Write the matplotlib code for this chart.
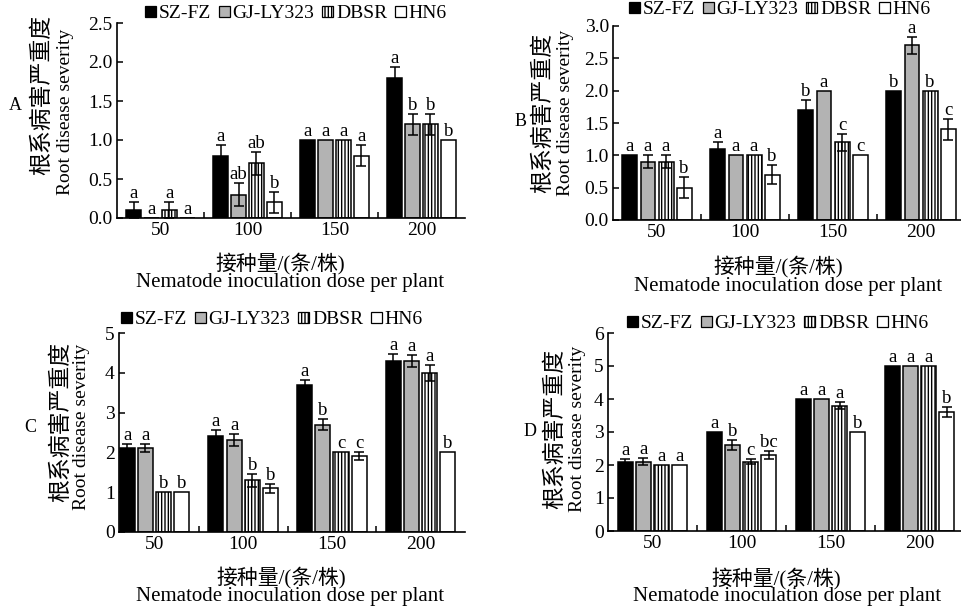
import numpy as np
import matplotlib.pyplot as plt
from matplotlib.patches import Patch

plt.rcParams['font.family'] = ['Liberation Serif', 'Noto Sans CJK SC']

doses = ['50', '100', '150', '200']
strains = ['SZ-FZ', 'GJ-LY323', 'DBSR', 'HN6']
colors = ['black', '#b3b3b3', 'white', 'white']
hatches = ['', '', '|' * 5, '']

# rows = strains, columns = doses
mean_A = [[0.1, 0.8, 1.0, 1.8], [0.0, 0.3, 1.0, 1.2], [0.1, 0.7, 1.0, 1.2], [0.0, 0.2, 0.8, 1.0]]
err_A = [[0.1, 0.13, 0, 0.13], [0, 0.15, 0, 0.13], [0.1, 0.15, 0, 0.13], [0, 0.13, 0.13, 0]]
let_A = [['a', 'a', 'a', 'a'], ['a', 'ab', 'a', 'b'], ['a', 'ab', 'a', 'b'], ['a', 'b', 'a', 'b']]

mean_B = [[1.0, 1.1, 1.7, 2.0], [0.9, 1.0, 2.0, 2.7], [0.9, 1.0, 1.2, 2.0], [0.5, 0.7, 1.0, 1.4]]
err_B = [[0, 0.1, 0.15, 0], [0.1, 0, 0, 0.13], [0.1, 0, 0.13, 0], [0.16, 0.15, 0, 0.16]]
let_B = [['a', 'a', 'b', 'b'], ['a', 'a', 'a', 'a'], ['a', 'a', 'c', 'b'], ['b', 'b', 'c', 'c']]

mean_C = [[2.1, 2.4, 3.7, 4.3], [2.1, 2.3, 2.7, 4.3], [1.0, 1.3, 2.0, 4.0], [1.0, 1.1, 1.9, 2.0]]
err_C = [[0.1, 0.16, 0.13, 0.16], [0.1, 0.15, 0.14, 0.15], [0, 0.16, 0, 0.2], [0, 0.11, 0.1, 0]]
let_C = [['a', 'a', 'a', 'a'], ['a', 'a', 'b', 'a'], ['b', 'b', 'c', 'a'], ['b', 'b', 'c', 'b']]

mean_D = [[2.1, 3.0, 4.0, 5.0], [2.1, 2.6, 4.0, 5.0], [2.0, 2.1, 3.8, 5.0], [2.0, 2.3, 3.0, 3.6]]
err_D = [[0.08, 0, 0, 0], [0.1, 0.15, 0, 0], [0, 0.08, 0.1, 0], [0, 0.13, 0, 0.15]]
let_D = [['a', 'a', 'a', 'a'], ['a', 'b', 'a', 'a'], ['a', 'c', 'a', 'a'], ['a', 'bc', 'b', 'b']]

ylab_zh = '根系病害严重度'
ylab_en = 'Root disease severity'
xlab_zh = '接种量/(条/株)'
xlab_en = 'Nematode inoculation dose per plant'

W, H = 961, 613
fig = plt.figure(figsize=(W / 100, H / 100), dpi=100)


def fx(px):
    return px / W


def fy(py):
    return 1 - py / H


panels = [
    dict(tag='A', mean=mean_A, err=err_A, lets=let_A, rect=(117, 465, 23, 218), xleft=0,
         ymax=2.5, yticks=np.arange(0, 2.6, 0.5), fmt='%.1f', leg=(296, 14), tagxy=(15, 105),
         zh=(43, 95), en=(65, 112), xzh=(280, 263), xen=(290, 283)),
    dict(tag='B', mean=mean_B, err=err_B, lets=let_B, rect=(613, 965, 26, 220), xleft=0,
         ymax=3.0, yticks=np.arange(0, 3.1, 0.5), fmt='%.1f', leg=(780, 10), tagxy=(521, 122),
         zh=(543, 113), en=(565, 113), xzh=(778, 266), xen=(788, 286)),
    dict(tag='C', mean=mean_C, err=err_C, lets=let_C, rect=(119, 465, 333, 532), xleft=0.1,
         ymax=5, yticks=np.arange(0, 6, 1), fmt='%d', leg=(272, 320), tagxy=(30, 427),
         zh=(62, 422), en=(82, 427), xzh=(281, 577), xen=(290, 597)),
    dict(tag='D', mean=mean_D, err=err_D, lets=let_D, rect=(608, 964, 333, 531), xleft=0,
         ymax=6, yticks=np.arange(0, 7, 1), fmt='%d', leg=(778, 324), tagxy=(530, 432),
         zh=(555, 429), en=(578, 429), xzh=(776, 578), xen=(787, 597)),
]

width = 0.17
step = 0.205

for p in panels:
    l, r, t, b = p['rect']
    ax = fig.add_axes([fx(l), fy(b), fx(r - l), (b - t) / H])
    for j in range(4):
        xs = np.arange(4) + 0.5 + (j - 1.5) * step
        ax.bar(xs, p['mean'][j], width, color=colors[j], edgecolor='black',
               linewidth=1.1, hatch=hatches[j], zorder=2)
        for i in range(4):
            m = p['mean'][j][i]
            e = p['err'][j][i]
            if e > 0:
                ax.errorbar(xs[i], m, yerr=e, color='black', capsize=3.6,
                            elinewidth=1.1, capthick=1.1, zorder=3)
            ax.annotate(p['lets'][j][i], (xs[i], m + e), xytext=(0, 0),
                        textcoords='offset points', ha='center', va='bottom',
                        fontsize=13.5)
    ax.set_xlim(p['xleft'], 4)
    ax.set_ylim(0, p['ymax'])
    ax.set_yticks(p['yticks'])
    ax.yaxis.set_major_formatter(plt.FormatStrFormatter(p['fmt']))
    ax.set_xticks([1, 2, 3])
    ax.set_xticklabels([])
    ax.set_xticks(np.arange(4) + 0.5, minor=True)
    ax.set_xticklabels(doses, minor=True)
    ax.tick_params(axis='x', which='major', direction='in', length=4, width=1.1)
    ax.tick_params(axis='x', which='minor', length=0, pad=3, labelsize=14)
    ax.tick_params(axis='y', direction='in', length=4, width=1.1, pad=3, labelsize=14)
    for s in ['top', 'right']:
        ax.spines[s].set_visible(False)
    for s in ['left', 'bottom']:
        ax.spines[s].set_linewidth(1.2)

    handles = [Patch(facecolor=colors[j], edgecolor='black', hatch=hatches[j], linewidth=0.9)
               for j in range(4)]
    ax.legend(handles, strains, loc='center', ncol=4, frameon=False, fontsize=14,
              bbox_to_anchor=(fx(p['leg'][0]), fy(p['leg'][1])), bbox_transform=fig.transFigure,
              handlelength=0.55, handleheight=0.55, handletextpad=0.15, columnspacing=0.4,
              borderpad=0, borderaxespad=0)

    fig.text(fx(p['tagxy'][0]), fy(p['tagxy'][1]), p['tag'], ha='center', va='center', fontsize=13)
    fig.text(fx(p['zh'][0]), fy(p['zh'][1]), ylab_zh, rotation=90, ha='center', va='center',
             fontsize=16.5)
    fig.text(fx(p['en'][0]), fy(p['en'][1]), ylab_en, rotation=90, ha='center', va='center',
             fontsize=14)
    fig.text(fx(p['xzh'][0]), fy(p['xzh'][1]), xlab_zh, ha='center', va='center', fontsize=15)
    fig.text(fx(p['xen'][0]), fy(p['xen'][1]), xlab_en, ha='center', va='center', fontsize=15)

fig.savefig('out.png', dpi=100)
